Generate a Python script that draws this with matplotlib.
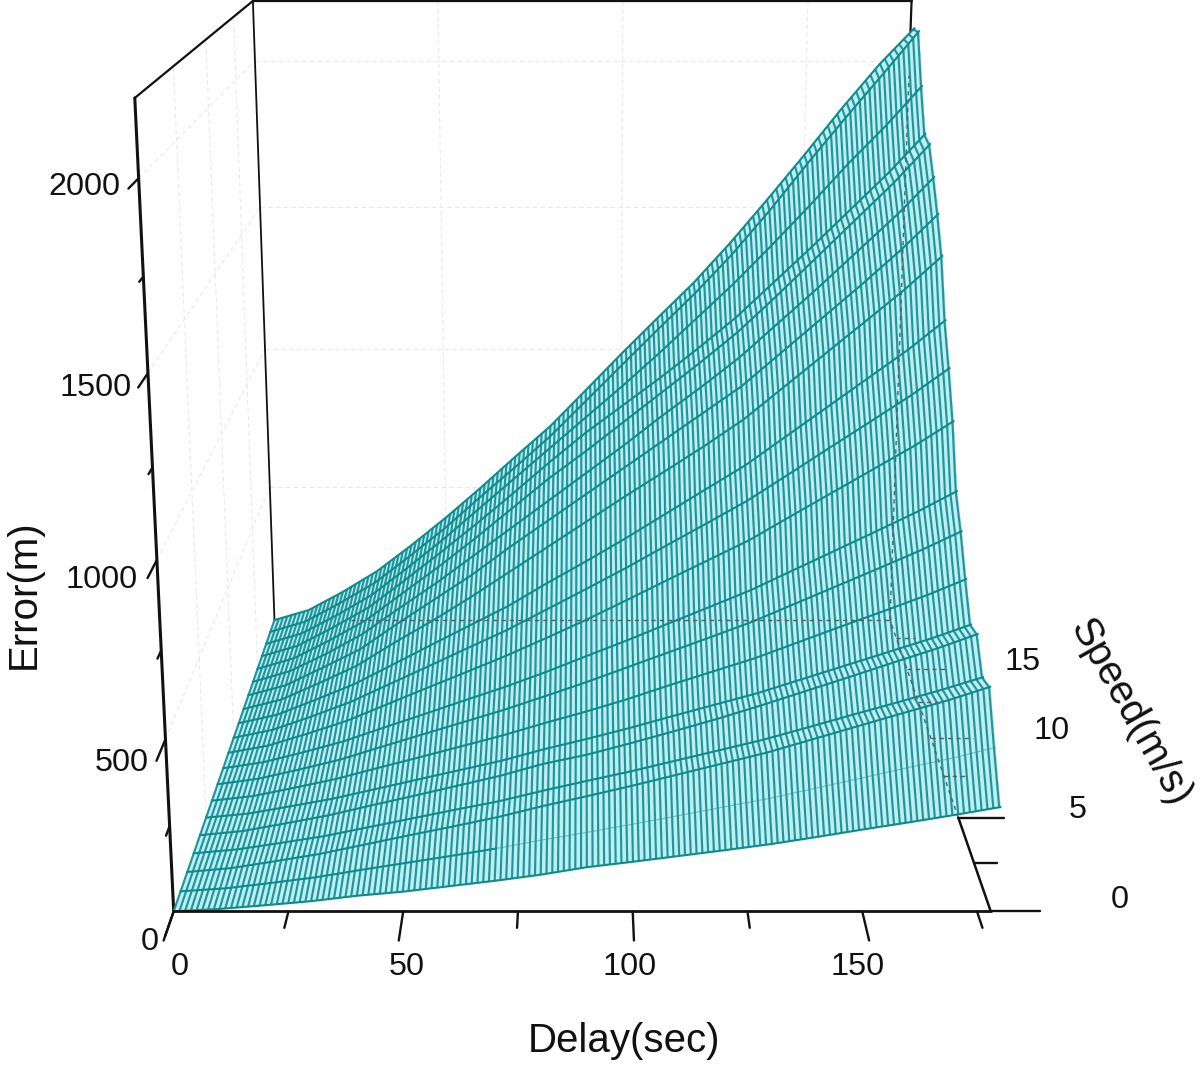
import numpy as np
import matplotlib
matplotlib.use("Agg")
import matplotlib.pyplot as plt
from mpl_toolkits.mplot3d.art3d import Line3DCollection

plt.rcParams['font.family'] = ['Liberation Sans', 'DejaVu Sans']

# ---------- data ----------
delays = [0, 10, 20, 30, 40, 50, 60, 70, 80, 90, 100, 110, 120, 130, 140, 150, 160, 170, 179]
speeds = [0, 1, 2, 3, 4, 5, 6, 7, 8, 9, 10, 11, 12, 13, 14, 15, 16, 17, 18, 19]
errors = [
    [0, 7, 18, 30, 46, 58, 74, 90, 108, 130, 146, 163, 180, 198, 219, 241, 262, 284, 305],
    [0, 9, 25, 42, 64, 85, 106, 128, 153, 176, 200, 225, 251, 276, 306, 336, 366, 395, 425],
    [0, 12, 33, 55, 83, 111, 138, 166, 199, 229, 260, 293, 326, 359, 398, 437, 476, 514, 553],
    [0, 12, 32, 53, 80, 107, 134, 160, 192, 222, 251, 283, 315, 347, 384, 422, 459, 497, 534],
    [0, 13, 37, 62, 93, 123, 154, 185, 222, 250, 285, 322, 360, 401, 444, 487, 531, 574, 617],
    [0, 13, 36, 60, 90, 120, 150, 180, 216, 248, 282, 319, 355, 391, 433, 475, 517, 559, 601],
    [0, 15, 42, 70, 105, 139, 174, 209, 248, 285, 325, 369, 411, 453, 502, 551, 599, 648, 697],
    [0, 18, 48, 80, 121, 161, 201, 241, 285, 330, 378, 426, 474, 523, 579, 635, 691, 748, 804],
    [0, 20, 53, 89, 134, 178, 223, 267, 315, 367, 418, 472, 525, 579, 641, 703, 765, 828, 890],
    [0, 24, 64, 107, 161, 215, 268, 322, 380, 440, 504, 569, 633, 697, 773, 848, 923, 998, 1073],
    [0, 27, 72, 121, 181, 241, 302, 362, 430, 498, 567, 640, 712, 785, 869, 954, 1038, 1123, 1207],
    [0, 29, 80, 133, 199, 266, 332, 398, 475, 548, 624, 704, 784, 863, 956, 1049, 1142, 1235, 1328],
    [0, 33, 90, 150, 230, 305, 385, 470, 555, 640, 725, 807, 890, 978, 1083, 1188, 1293, 1399, 1504],
    [0, 35, 97, 161, 250, 335, 420, 515, 605, 695, 785, 875, 965, 1055, 1165, 1275, 1385, 1500, 1613],
    [0, 38, 100, 171, 262, 350, 445, 540, 635, 730, 825, 925, 1020, 1120, 1235, 1350, 1470, 1590, 1709],
    [0, 38, 103, 175, 270, 365, 465, 570, 675, 770, 870, 970, 1070, 1175, 1295, 1420, 1545, 1670, 1795],
    [0, 38, 105, 178, 275, 375, 478, 585, 695, 800, 895, 990, 1090, 1195, 1315, 1435, 1560, 1685, 1809],
    [0, 38, 105, 180, 278, 380, 490, 600, 710, 820, 930, 1045, 1165, 1285, 1415, 1550, 1690, 1820, 1948],
    [0, 38, 107, 182, 280, 382, 495, 605, 718, 845, 973, 1100, 1225, 1360, 1510, 1670, 1825, 1975, 2113],
    [0, 38, 107, 185, 282, 385, 495, 610, 722, 852, 983, 1110, 1235, 1375, 1525, 1680, 1840, 1990, 2109],
]
x_major = [0, 50, 100, 150]
x_minor = [25, 75, 125, 175]
y_major = [0, 5, 10, 15]
y_minor = [2.5, 7.5, 12.5, 17.5]
z_major = [0, 500, 1000, 1500, 2000]
z_minor = [250, 750, 1250, 1750]
x_labels = ['0', '50', '100', '150']
y_labels = ['0', '5', '10', '15']
z_labels = ['0', '500', '1000', '1500', '2000']

XMAX, YMAX, ZMAX = 178, 19, 2200
HATCH_STEP = 1.25   # spacing of the drawn mesh rule on the surface

# ---------- figure and 3D axes ----------
W, H = 1200, 1065
fig = plt.figure(figsize=(W / 100, H / 100), dpi=100, facecolor='white')
S = 1237
ax = fig.add_axes([-53 / W, 22.5 / H, S / W, S / H], projection='3d', computed_zorder=False)
ax.set_proj_type('persp', focal_length=0.37)
ax.view_init(elev=15.3, azim=-90)
ax.set_box_aspect((0.2485, 0.2554, 0.248))
ax.set_axis_off()
ax.patch.set_alpha(0)
ax.set_xlim(0, XMAX)
ax.set_ylim(0, YMAX)
ax.set_zlim(0, ZMAX)

# ---------- surface ----------
dx = np.array(delays, float)
sp = np.array(speeds, float)
ZZ = np.array(errors, float)
XX, YY = np.meshgrid(dx, sp)
ax.plot_surface(XX, YY, ZZ, color='#bdeef1', shade=False, rstride=1, cstride=1,
                linewidth=0, antialiased=False, zorder=3)

TEAL = '#20959b'
DARK = '#0f8b8d'
hatch = []
for d in np.arange(0, 179.01, HATCH_STEP):
    zs = [np.interp(d, dx, row) for row in ZZ]
    hatch.append(np.column_stack([np.full(len(sp), d), sp, zs]))
ax.add_collection3d(Line3DCollection(hatch, colors=TEAL, linewidths=1.55, zorder=4), autolim=False)
for i, (s, row) in enumerate(zip(sp, ZZ)):
    if i == 1:   # this row fades out behind the mesh beyond 70 s
        ax.plot(dx[:8], np.full(8, s), row[:8], color=DARK, lw=1.5, zorder=5)
        ax.plot(dx[7:], np.full(len(dx) - 7, s), row[7:], color=TEAL, lw=0.8, alpha=0.5, zorder=5)
    else:
        ax.plot(dx, np.full(len(dx), s), row, color=DARK, lw=1.5, zorder=5)

# ---------- back walls: faint grid ----------
GRID = dict(color='#e9e9e9', lw=0.8, ls=(0, (4, 3)), zorder=1)
for z in z_major[1:]:
    ax.plot([0, XMAX], [YMAX, YMAX], [z, z], **GRID)
    ax.plot([0, 0], [0, YMAX], [z, z], **GRID)
for x in x_major[1:]:
    ax.plot([x, x], [YMAX, YMAX], [0, ZMAX], **GRID)
for y in y_major[1:]:
    ax.plot([0, 0], [y, y], [0, ZMAX], **GRID)

# ---------- frame ----------
K = dict(color='#111111', solid_capstyle='round')
ax.plot([0, 0], [0, 0], [0, ZMAX], lw=2.2, zorder=2, **K)
ax.plot([0, 0], [YMAX, YMAX], [0, ZMAX], lw=1.3, zorder=2, **K)
ax.plot([0, 0], [0, YMAX], [ZMAX, ZMAX], lw=1.6, zorder=2, **K)
ax.plot([0, XMAX], [YMAX, YMAX], [ZMAX, ZMAX], lw=1.6, zorder=2, **K)
ax.plot([XMAX, XMAX], [YMAX, YMAX], [2080, ZMAX], lw=1.6, zorder=2, **K)
ax.plot([0, XMAX], [0, 0], [0, 0], lw=2.0, zorder=6, **K)
ax.plot([XMAX, XMAX], [0, 5], [0, 0], lw=1.8, zorder=6, **K)

# hidden edges, seen through the mesh
HID = dict(color='#506268', lw=1.0, ls=(0, (3, 3)), zorder=6)
ax.plot([22, XMAX], [YMAX, YMAX], [0, 0], **HID)
ax.plot([XMAX, XMAX], [YMAX, YMAX], [0, 1950], **HID)
ax.plot([XMAX, XMAX], [5, YMAX], [0, 0], **HID)

# ---------- tick marks ----------
for x, ln in [(v, 1.4) for v in x_major] + [(v, 0.8) for v in x_minor]:
    ax.plot([x, x], [0, -ln], [0, 0], lw=1.7, zorder=6, **K)
for z, ln in [(v, 1.2) for v in z_major] + [(v, 0.5) for v in z_minor]:
    ax.plot([0, 0], [0, -ln], [z, z], lw=1.7, zorder=6, **K)
for y, ln in [(v, 10.7) for v in y_major] + [(v, 5.3) for v in y_minor]:
    if y <= 5:
        ax.plot([XMAX, XMAX + ln], [y, y], [0, 0], lw=1.7, zorder=6, **K)
    else:
        ax.plot([XMAX, XMAX + ln], [y, y], [0, 0], **HID)

ax.set_xlim(0, XMAX)
ax.set_ylim(0, YMAX)
ax.set_zlim(0, ZMAX)

# ---------- text ----------
def ptext(px, py, s, size=23.3, **kw):
    fig.text(px / W, 1 - py / H, s, fontsize=size, ha='center', va='center', color='#111111', **kw)

for s, p in zip(x_labels, [180, 407, 630, 858]):
    ptext(p, 967, s)
for s, (px, py) in zip(y_labels, [(1120, 900), (1078, 810), (1052, 731), (1023, 662)]):
    ptext(px, py, s)
for s, (px, py) in zip(z_labels, [(150, 942), (122, 763), (102, 580), (96, 388), (84, 187)]):
    ptext(px, py, s)
ptext(24, 594, 'Error(m)', size=29, rotation=90)
ptext(624, 1041, 'Delay(sec)', size=29)
ptext(1130, 712, 'Speed(m/s)', size=29, rotation=-60.5)

fig.savefig('out.png', dpi=100, facecolor='white')
